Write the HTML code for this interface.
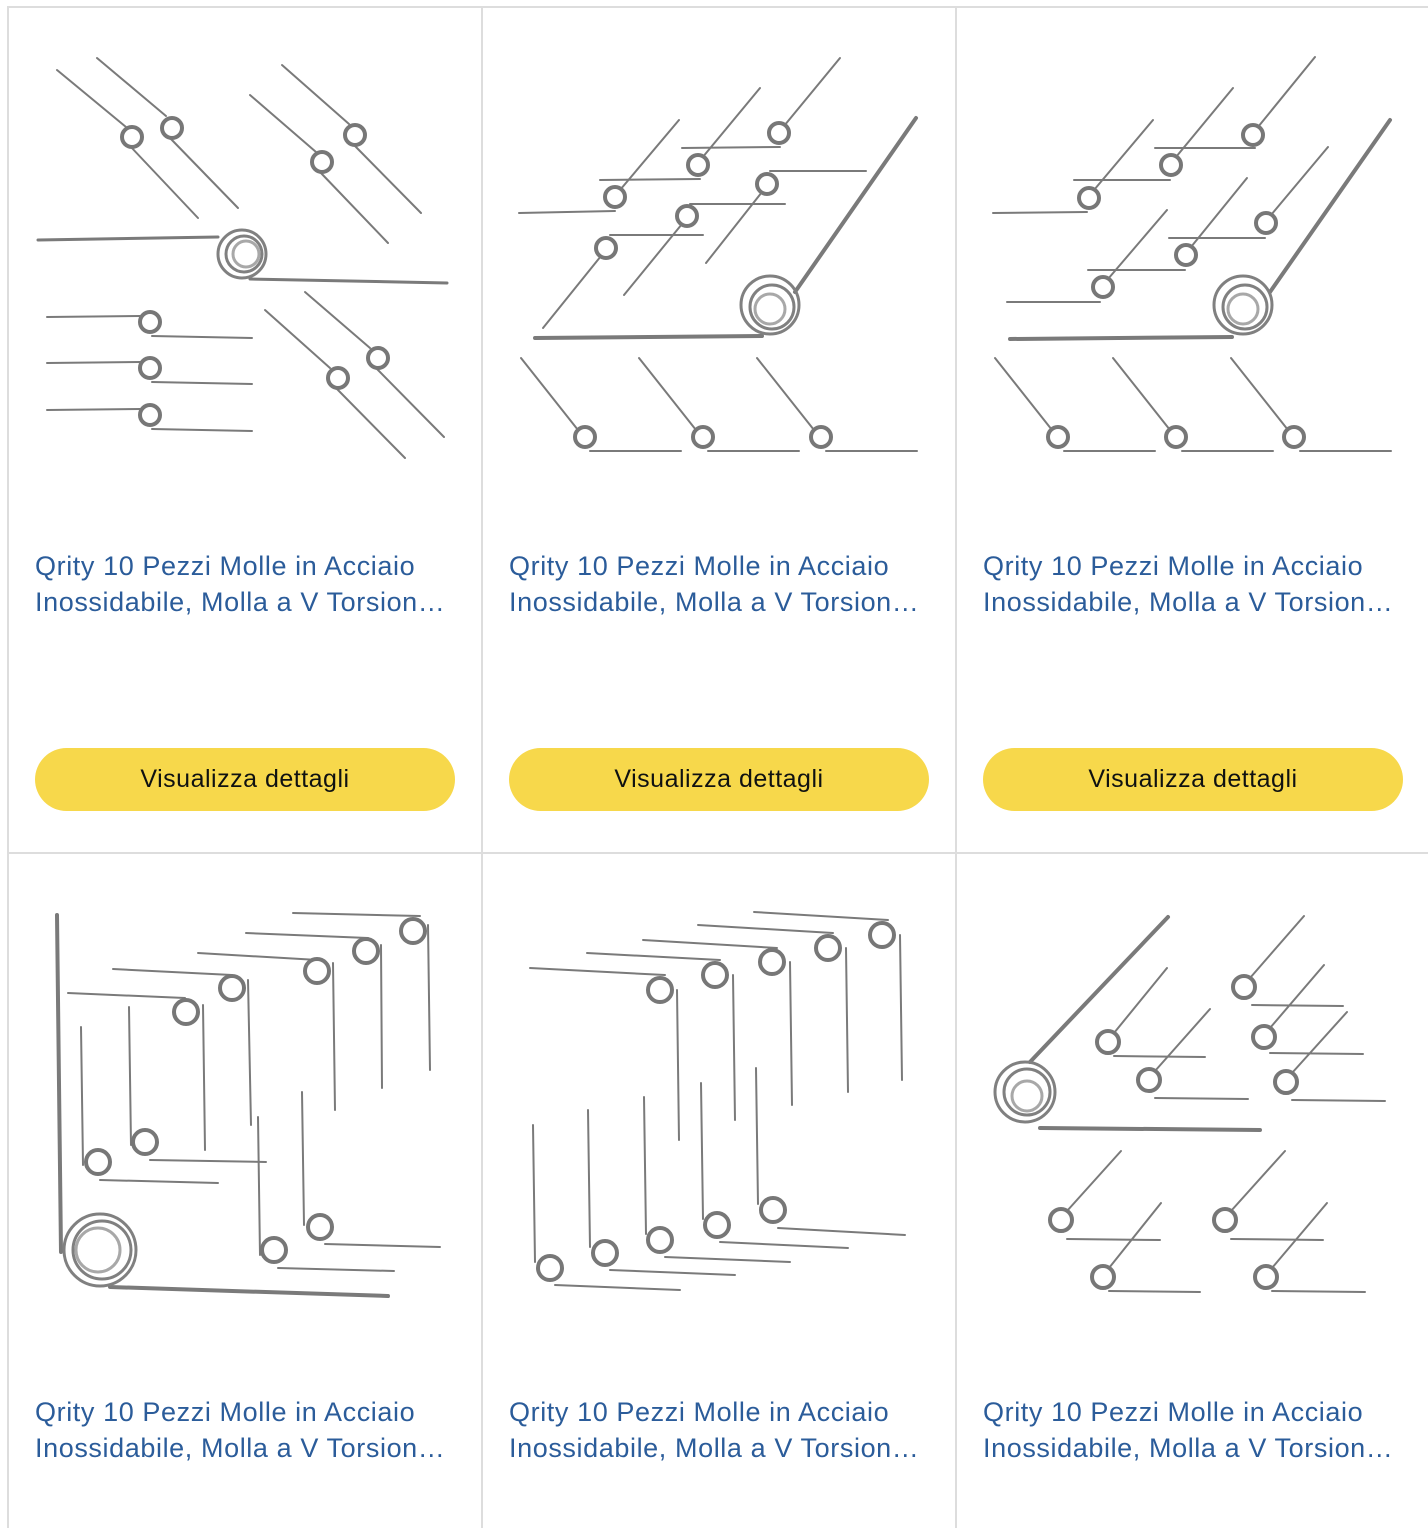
<!DOCTYPE html>
<html><head><meta charset="utf-8">
<style>
html,body{margin:0;padding:0;background:#fff;}
body{width:1428px;height:1528px;position:relative;overflow:hidden;font-family:"Liberation Sans",sans-serif;}
.vl{position:absolute;top:6px;width:2px;height:1522px;background:#dddddd;}
.hl{position:absolute;left:7px;width:1421px;height:2px;background:#dddddd;}
.t{position:absolute;width:412px;font-size:27px;letter-spacing:0.6px;line-height:36px;color:#2b5c9a;}
.t div{white-space:nowrap;overflow:hidden;text-overflow:ellipsis;}
.b{position:absolute;width:420px;height:63px;border-radius:32px;background:#f7d84b;color:#0f1111;font-size:25px;letter-spacing:0.5px;line-height:63px;text-align:center;}
svg{position:absolute;left:0;top:0;}
</style></head><body>
<div class="vl" style="left:7px"></div>
<div class="vl" style="left:481px"></div>
<div class="vl" style="left:955px"></div>
<div class="hl" style="top:6px"></div>
<div class="hl" style="top:852px"></div>

<svg width="1428" height="1528" viewBox="0 0 1428 1528">
<g stroke="#7a7a7a" stroke-width="2" fill="none" stroke-linecap="round">
<!-- cell 1 -->
<line x1="57" y1="70" x2="126" y2="127"/><line x1="130" y1="146" x2="198" y2="218"/>
<line x1="97" y1="58" x2="166" y2="116"/><line x1="170" y1="138" x2="238" y2="208"/>
<line x1="250" y1="95" x2="316" y2="152"/><line x1="320" y1="172" x2="388" y2="243"/>
<line x1="282" y1="65" x2="349" y2="124"/><line x1="354" y1="145" x2="421" y2="213"/>
<line x1="38" y1="240" x2="218" y2="237" stroke-width="3"/><line x1="250" y1="279" x2="447" y2="283" stroke-width="3"/>
<line x1="47" y1="317" x2="140" y2="316"/><line x1="152" y1="336" x2="252" y2="338"/>
<line x1="47" y1="363" x2="140" y2="362"/><line x1="152" y1="382" x2="252" y2="384"/>
<line x1="47" y1="410" x2="140" y2="409"/><line x1="152" y1="429" x2="252" y2="431"/>
<line x1="265" y1="310" x2="330" y2="368"/><line x1="336" y1="388" x2="405" y2="458"/>
<line x1="305" y1="292" x2="370" y2="348"/><line x1="376" y1="368" x2="444" y2="437"/>
<!-- cell 2 -->
<line x1="535" y1="338" x2="762" y2="336" stroke-width="4"/><line x1="795" y1="292" x2="916" y2="118" stroke-width="4"/>
<line x1="519" y1="213" x2="615" y2="211"/><line x1="620" y1="190" x2="679" y2="120"/>
<line x1="600" y1="180" x2="700" y2="179"/><line x1="702" y1="158" x2="760" y2="88"/>
<line x1="682" y1="148" x2="780" y2="147"/><line x1="784" y1="126" x2="840" y2="58"/>
<line x1="770" y1="171" x2="866" y2="171"/><line x1="762" y1="192" x2="706" y2="263"/>
<line x1="690" y1="204" x2="785" y2="204"/><line x1="682" y1="224" x2="624" y2="295"/>
<line x1="610" y1="235" x2="703" y2="235"/><line x1="601" y1="256" x2="543" y2="328"/>
<line x1="521" y1="358" x2="578" y2="430"/><line x1="590" y1="451" x2="681" y2="451"/>
<line x1="639" y1="358" x2="696" y2="430"/><line x1="708" y1="451" x2="799" y2="451"/>
<line x1="757" y1="358" x2="814" y2="430"/><line x1="826" y1="451" x2="917" y2="451"/>
<!-- cell 3 -->
<line x1="1010" y1="339" x2="1232" y2="337" stroke-width="4"/><line x1="1270" y1="292" x2="1390" y2="120" stroke-width="4"/>
<line x1="993" y1="213" x2="1087" y2="212"/><line x1="1094" y1="190" x2="1153" y2="120"/>
<line x1="1074" y1="180" x2="1170" y2="180"/><line x1="1176" y1="157" x2="1233" y2="88"/>
<line x1="1155" y1="148" x2="1255" y2="148"/><line x1="1258" y1="127" x2="1315" y2="57"/>
<line x1="1169" y1="238" x2="1265" y2="238"/><line x1="1271" y1="215" x2="1328" y2="147"/>
<line x1="1088" y1="270" x2="1185" y2="270"/><line x1="1191" y1="247" x2="1247" y2="178"/>
<line x1="1007" y1="302" x2="1100" y2="302"/><line x1="1108" y1="279" x2="1167" y2="210"/>
<line x1="995" y1="358" x2="1052" y2="430"/><line x1="1064" y1="451" x2="1155" y2="451"/>
<line x1="1113" y1="358" x2="1170" y2="430"/><line x1="1182" y1="451" x2="1273" y2="451"/>
<line x1="1231" y1="358" x2="1288" y2="430"/><line x1="1300" y1="451" x2="1391" y2="451"/>
<!-- cell 4 -->
<line x1="57" y1="915" x2="61" y2="1252" stroke-width="4"/><line x1="110" y1="1287" x2="388" y2="1296" stroke-width="4"/>
<line x1="68" y1="993" x2="185" y2="998"/><line x1="203" y1="1005" x2="205" y2="1150"/>
<line x1="113" y1="969" x2="232" y2="975"/><line x1="248" y1="980" x2="251" y2="1125"/>
<line x1="198" y1="953" x2="318" y2="960"/><line x1="333" y1="963" x2="335" y2="1110"/>
<line x1="246" y1="933" x2="368" y2="938"/><line x1="381" y1="945" x2="382" y2="1088"/>
<line x1="293" y1="913" x2="420" y2="916"/><line x1="428" y1="925" x2="430" y2="1070"/>
<line x1="81" y1="1027" x2="83" y2="1165"/><line x1="100" y1="1180" x2="218" y2="1183"/>
<line x1="129" y1="1007" x2="131" y2="1145"/><line x1="150" y1="1160" x2="266" y2="1162"/>
<line x1="258" y1="1117" x2="260" y2="1255"/><line x1="278" y1="1268" x2="394" y2="1271"/>
<line x1="302" y1="1092" x2="304" y2="1225"/><line x1="325" y1="1244" x2="440" y2="1247"/>
<!-- cell 5 -->
<line x1="530" y1="968" x2="665" y2="975"/><line x1="677" y1="990" x2="679" y2="1140"/>
<line x1="587" y1="953" x2="720" y2="960"/><line x1="733" y1="975" x2="735" y2="1120"/>
<line x1="643" y1="940" x2="777" y2="948"/><line x1="790" y1="962" x2="792" y2="1105"/>
<line x1="698" y1="925" x2="833" y2="933"/><line x1="846" y1="948" x2="848" y2="1092"/>
<line x1="754" y1="912" x2="888" y2="920"/><line x1="900" y1="935" x2="902" y2="1080"/>
<line x1="533" y1="1125" x2="535" y2="1262"/><line x1="555" y1="1285" x2="680" y2="1290"/>
<line x1="588" y1="1110" x2="590" y2="1247"/><line x1="610" y1="1270" x2="735" y2="1275"/>
<line x1="644" y1="1097" x2="646" y2="1234"/><line x1="665" y1="1257" x2="790" y2="1262"/>
<line x1="701" y1="1083" x2="703" y2="1219"/><line x1="720" y1="1242" x2="848" y2="1248"/>
<line x1="756" y1="1068" x2="758" y2="1204"/><line x1="778" y1="1228" x2="905" y2="1235"/>
<!-- cell 6 -->
<line x1="1030" y1="1062" x2="1168" y2="917" stroke-width="4"/><line x1="1040" y1="1128" x2="1260" y2="1130" stroke-width="4"/>
<line x1="1250" y1="978" x2="1304" y2="916"/><line x1="1252" y1="1005" x2="1343" y2="1006"/>
<line x1="1114" y1="1033" x2="1167" y2="968"/><line x1="1114" y1="1056" x2="1205" y2="1057"/>
<line x1="1270" y1="1028" x2="1324" y2="965"/><line x1="1270" y1="1053" x2="1363" y2="1054"/>
<line x1="1155" y1="1071" x2="1210" y2="1009"/><line x1="1155" y1="1098" x2="1248" y2="1099"/>
<line x1="1292" y1="1073" x2="1347" y2="1012"/><line x1="1292" y1="1100" x2="1385" y2="1101"/>
<line x1="1067" y1="1211" x2="1121" y2="1151"/><line x1="1067" y1="1239" x2="1160" y2="1240"/>
<line x1="1109" y1="1268" x2="1161" y2="1203"/><line x1="1109" y1="1291" x2="1200" y2="1292"/>
<line x1="1231" y1="1211" x2="1285" y2="1151"/><line x1="1231" y1="1239" x2="1323" y2="1240"/>
<line x1="1272" y1="1268" x2="1327" y2="1203"/><line x1="1272" y1="1291" x2="1365" y2="1292"/>
</g>
<!-- small coils -->
<g fill="#fff" stroke="#777" stroke-width="4">
<circle cx="132" cy="137" r="10"/><circle cx="172" cy="128" r="10"/><circle cx="322" cy="162" r="10"/><circle cx="355" cy="135" r="10"/>
<circle cx="150" cy="322" r="10"/><circle cx="150" cy="368" r="10"/><circle cx="150" cy="415" r="10"/>
<circle cx="338" cy="378" r="10"/><circle cx="378" cy="358" r="10"/>
<circle cx="615" cy="197" r="10"/><circle cx="698" cy="165" r="10"/><circle cx="779" cy="133" r="10"/><circle cx="767" cy="184" r="10"/><circle cx="687" cy="216" r="10"/><circle cx="606" cy="248" r="10"/>
<circle cx="585" cy="437" r="10"/><circle cx="703" cy="437" r="10"/><circle cx="821" cy="437" r="10"/>
<circle cx="1089" cy="198" r="10"/><circle cx="1171" cy="165" r="10"/><circle cx="1253" cy="135" r="10"/><circle cx="1266" cy="223" r="10"/><circle cx="1186" cy="255" r="10"/><circle cx="1103" cy="287" r="10"/>
<circle cx="1058" cy="437" r="10"/><circle cx="1176" cy="437" r="10"/><circle cx="1294" cy="437" r="10"/>
<circle cx="186" cy="1012" r="12"/><circle cx="232" cy="988" r="12"/><circle cx="317" cy="971" r="12"/><circle cx="366" cy="951" r="12"/><circle cx="413" cy="931" r="12"/>
<circle cx="98" cy="1162" r="12"/><circle cx="145" cy="1142" r="12"/><circle cx="274" cy="1250" r="12"/><circle cx="320" cy="1227" r="12"/>
<circle cx="660" cy="990" r="12"/><circle cx="715" cy="975" r="12"/><circle cx="772" cy="962" r="12"/><circle cx="828" cy="948" r="12"/><circle cx="882" cy="935" r="12"/>
<circle cx="550" cy="1268" r="12"/><circle cx="605" cy="1253" r="12"/><circle cx="660" cy="1240" r="12"/><circle cx="717" cy="1225" r="12"/><circle cx="773" cy="1210" r="12"/>
<circle cx="1244" cy="987" r="11"/><circle cx="1108" cy="1042" r="11"/><circle cx="1264" cy="1037" r="11"/><circle cx="1149" cy="1080" r="11"/><circle cx="1286" cy="1082" r="11"/>
<circle cx="1061" cy="1220" r="11"/><circle cx="1103" cy="1277" r="11"/><circle cx="1225" cy="1220" r="11"/><circle cx="1266" cy="1277" r="11"/>
</g>
<!-- big coils -->
<g fill="none" stroke="#808080" stroke-width="3">
<circle cx="242" cy="254" r="24"/><circle cx="244" cy="254" r="18"/><circle cx="246" cy="254" r="13" stroke="#a8a8a8"/>
<circle cx="770" cy="305" r="29"/><circle cx="772" cy="307" r="22"/><circle cx="770" cy="309" r="15" stroke="#a8a8a8"/>
<circle cx="1243" cy="305" r="29"/><circle cx="1245" cy="307" r="22"/><circle cx="1243" cy="309" r="15" stroke="#a8a8a8"/>
<circle cx="100" cy="1250" r="36"/><circle cx="102" cy="1250" r="29"/><circle cx="98" cy="1250" r="22" stroke="#a8a8a8"/>
<circle cx="1025" cy="1092" r="30"/><circle cx="1027" cy="1092" r="23"/><circle cx="1027" cy="1096" r="15" stroke="#a8a8a8"/>
</g>
</svg>

<div class="t" style="left:35px;top:548px"><div>Qrity 10 Pezzi Molle in Acciaio</div><div>Inossidabile, Molla a V Torsione per Uso</div></div>
<div class="t" style="left:509px;top:548px"><div>Qrity 10 Pezzi Molle in Acciaio</div><div>Inossidabile, Molla a V Torsione per Uso</div></div>
<div class="t" style="left:983px;top:548px"><div>Qrity 10 Pezzi Molle in Acciaio</div><div>Inossidabile, Molla a V Torsione per Uso</div></div>
<div class="b" style="left:35px;top:748px">Visualizza dettagli</div>
<div class="b" style="left:509px;top:748px">Visualizza dettagli</div>
<div class="b" style="left:983px;top:748px">Visualizza dettagli</div>
<div class="t" style="left:35px;top:1394px"><div>Qrity 10 Pezzi Molle in Acciaio</div><div>Inossidabile, Molla a V Torsione per Uso</div></div>
<div class="t" style="left:509px;top:1394px"><div>Qrity 10 Pezzi Molle in Acciaio</div><div>Inossidabile, Molla a V Torsione per Uso</div></div>
<div class="t" style="left:983px;top:1394px"><div>Qrity 10 Pezzi Molle in Acciaio</div><div>Inossidabile, Molla a V Torsione per Uso</div></div>
</body></html>
